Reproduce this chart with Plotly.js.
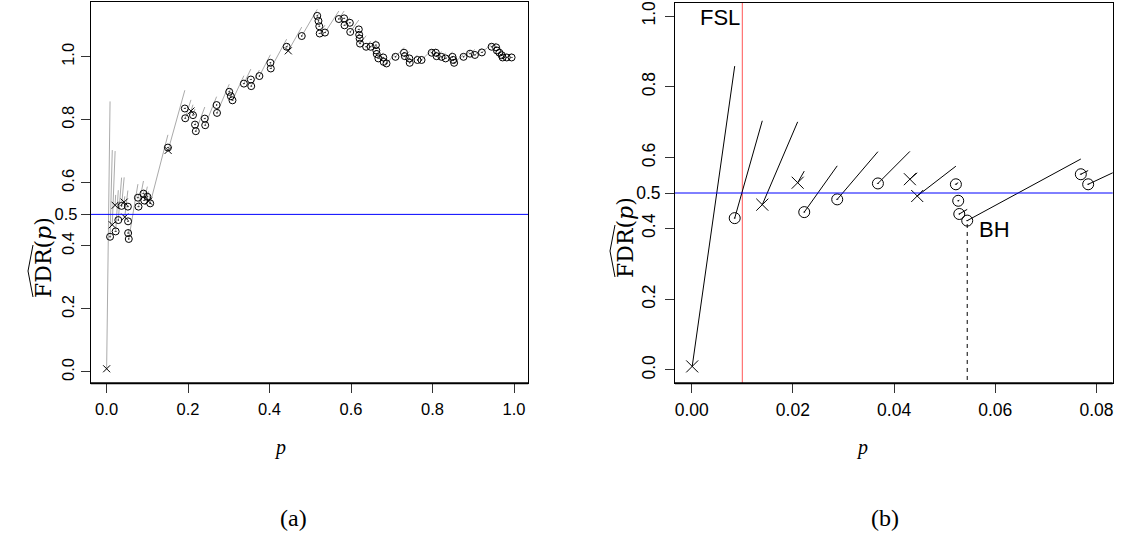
<!DOCTYPE html>
<html>
<head>
<meta charset="utf-8">
<script src="https://cdn.plot.ly/plotly-3.0.1.min.js"></script>
<style>html,body{margin:0;padding:0;background:#fff;}#chart{width:1133px;height:535px;}</style>
</head>
<body>
<div id="chart"></div>
<script>
// ---- data ----
// sorted p-values and their FDR estimates; marker kind: 'o' = circle with dot, 'x' = cross
const pVals = [0.0001,0.0085,0.01395,0.02094,0.02224,0.02876,0.0368,0.04312,0.04457,0.05221,0.05267,0.05288,0.05445,0.0769,0.07835,
 0.0905,0.0925,0.1000,0.1030,0.1070,0.1505,0.1510,0.192,0.193,0.207,0.212,0.217,0.219,0.241,0.242,
 0.270,0.271,0.301,0.305,0.309,0.337,0.354,0.355,0.375,0.402,0.403,0.442,0.446,0.479,0.517,
 0.520,0.522,0.523,0.536,0.570,0.583,0.584,0.597,0.598,0.619,0.620,0.621,0.622,0.637,0.648,
 0.661,0.662,0.663,0.667,0.679,0.680,0.687,0.709,0.730,0.732,0.743,0.744,0.763,0.773,0.798,
 0.808,0.810,0.822,0.832,0.849,0.851,0.853,0.876,0.892,0.904,0.921,0.945,0.956,0.958,0.964,
 0.970,0.972,0.982,0.994];
const fdrVals = [0.0101,0.429,0.467,0.529,0.446,0.482,0.527,0.539,0.4915,0.5246,0.478,0.4407,0.422,0.553,0.5246,
 0.566,0.544,0.556,0.542,0.535,0.712,0.703,0.836,0.805,0.828,0.815,0.785,0.764,0.804,0.783,
 0.847,0.822,0.889,0.875,0.862,0.915,0.928,0.907,0.939,0.981,0.963,1.032,1.019,1.066,1.130,
 1.114,1.097,1.074,1.077,1.120,1.122,1.100,1.108,1.079,1.087,1.070,1.058,1.042,1.032,1.032,
 1.037,1.020,1.009,0.995,0.998,0.984,0.979,1.000,1.013,1.002,0.995,0.981,0.990,0.990,1.013,
 1.013,1.002,1.000,0.995,1.000,0.990,0.981,1.000,1.010,1.006,1.014,1.032,1.030,1.020,1.013,
 1.005,0.998,0.998,0.998];
const kind = ['x','o','x','x','o','o','o','x','x','o','o','o','o','o','o',
 'o','o','o','x','o','o','x','o','o','x','o','o','o','o','o',
 'o','o','o','o','o','o','o','o','o','o','o','o','x','o','o',
 'o','o','o','o','o','o','o','o','o','o','o','o','o','o','o',
 'o','o','o','o','o','o','o','o','o','o','o','o','o','o','o',
 'o','o','o','o','o','o','o','o','o','o','o','o','o','o','o',
 'o','o','o','o'];
const alphaLevel = 0.5;      // target FDR level (blue line)
const fslCut = 0.01;         // FSL threshold (red line)
const bhIndex = 12;          // BH cut-off point (dashed line)
const xTicksA = [0,0.2,0.4,0.6,0.8,1.0], xLabA = ['0.0','0.2','0.4','0.6','0.8','1.0'];
const xTicksB = [0,0.02,0.04,0.06,0.08], xLabB = ['0.00','0.02','0.04','0.06','0.08'];
const yTicks = [0,0.2,0.4,0.6,0.8,1.0], yLab = ['0.0','0.2','0.4','0.6','0.8','1.0'];

// ---- build traces ----
const segX = [], segY = [];
for (let i = 0; i < pVals.length - 1; i++) {
  segX.push(pVals[i], pVals[i+1], null);
  segY.push(fdrVals[i], fdrVals[i] * pVals[i+1] / pVals[i], null);
}
const oX = [], oY = [], xX = [], xY = [];
pVals.forEach((p, i) => { if (kind[i] === 'o') { oX.push(p); oY.push(fdrVals[i]); } else { xX.push(p); xY.push(fdrVals[i]); } });

const W = 1133, H = 535;
const px = v => v / W, py = v => 1 - v / H;

const traces = [
  // panel (a)
  {x: segX, y: segY, xaxis:'x', yaxis:'y', mode:'lines', line:{color:'#aaaaaa', width:1}, hoverinfo:'skip'},
  {x: [-1, 2], y: [alphaLevel, alphaLevel], xaxis:'x', yaxis:'y3', mode:'lines', line:{color:'#0000ff', width:1}},
  {x: oX, y: oY, xaxis:'x', yaxis:'y', mode:'markers', marker:{symbol:'circle-open-dot', size:7, color:'#000', line:{width:1, color:'#000'}}},
  {x: xX, y: xY, xaxis:'x', yaxis:'y', mode:'markers', marker:{symbol:'x-thin-open', size:7, color:'#000', line:{width:1, color:'#000'}}},
  // panel (b)
  {x: [fslCut, fslCut], y: [-1, 2], xaxis:'x2', yaxis:'y2', mode:'lines', line:{color:'#ff5555', width:1}},
  {x: [-1, 1], y: [alphaLevel, alphaLevel], xaxis:'x2', yaxis:'y4', mode:'lines', line:{color:'#0000ff', width:1}},
  {x: [pVals[bhIndex], pVals[bhIndex]], y: [-1, fdrVals[bhIndex] - 0.01], xaxis:'x2', yaxis:'y2', mode:'lines', line:{color:'#000', width:1, dash:'4px,4px'}},
  {x: segX, y: segY, xaxis:'x2', yaxis:'y2', mode:'lines', line:{color:'#000', width:1}},
  {x: oX, y: oY, xaxis:'x2', yaxis:'y2', mode:'markers', marker:{symbol:'circle-open-dot', size:11, color:'#000', line:{width:1, color:'#000'}}},
  {x: xX, y: xY, xaxis:'x2', yaxis:'y2', mode:'markers', marker:{symbol:'x-thin-open', size:12, color:'#000', line:{width:1, color:'#000'}}}
];

const fontA = {family:'Liberation Sans, Arial, sans-serif', size:16.5, color:'#000'};
const fontB = {family:'Liberation Sans, Arial, sans-serif', size:17.5, color:'#000'};
const baseX = {showgrid:false, zeroline:false, showline:true, mirror:true, linecolor:'#000', linewidth:1,
  ticks:'outside', ticklen:9, tickcolor:'#333', tickwidth:1, ticklabelstandoff:2, fixedrange:true};

const rangeA_y = [-0.036, 1.174], rangeB_y = [-0.0376, 1.0376];
const serif = 'DejaVu Serif, serif';
const layout = {
  width: W, height: H, margin:{l:0,r:0,t:0,b:0}, showlegend:false,
  paper_bgcolor:'#fff', plot_bgcolor:'#fff',
  xaxis: Object.assign({}, baseX, {tickfont:fontA, domain:[px(90.7), px(528.3)], range:[-0.039, 1.035], tickvals:xTicksA, ticktext:xLabA, anchor:'y'}),
  yaxis: Object.assign({}, baseX, {tickfont:fontA, tickangle:-90, ticklabelstandoff:0, domain:[py(383.3), py(2)], range:rangeA_y, tickvals:yTicks, ticktext:yLab, anchor:'x'}),
  yaxis3: Object.assign({}, baseX, {tickfont:fontA, overlaying:'y', anchor:'x', side:'left', range:rangeA_y, tickvals:[alphaLevel], ticktext:['0.5'], showline:false, mirror:false, ticklabelstandoff:0}),
  xaxis2: Object.assign({}, baseX, {tickfont:fontB, domain:[px(675), px(1112.7)], range:[-0.0033, 0.0832], tickvals:xTicksB, ticktext:xLabB, anchor:'y2'}),
  yaxis2: Object.assign({}, baseX, {tickfont:fontB, tickangle:-90, ticklabelstandoff:3, domain:[py(383.3), py(2.7)], range:rangeB_y, tickvals:yTicks, ticktext:yLab, anchor:'x2'}),
  yaxis4: Object.assign({}, baseX, {tickfont:fontB, overlaying:'y2', anchor:'x2', side:'left', range:rangeB_y, tickvals:[alphaLevel], ticktext:['0.5'], showline:false, mirror:false, ticklabelstandoff:1}),
  annotations: [
    {xref:'x2', yref:'y2', x:fslCut, y:0.997, text:'FSL', showarrow:false, xanchor:'right', yanchor:'middle', font:{family:'Liberation Sans, Arial', size:22, color:'#000'}},
    {xref:'x2', yref:'y2', x:pVals[bhIndex], y:0.397, xshift:10, text:'BH', showarrow:false, xanchor:'left', yanchor:'middle', font:{family:'Liberation Sans, Arial', size:22, color:'#000'}},
    {xref:'paper', yref:'paper', x:px(280), y:py(447), xanchor:'center', yanchor:'middle', text:'<i>p</i>', showarrow:false, font:{family:'Liberation Serif, serif', size:20, color:'#000'}},
    {xref:'paper', yref:'paper', x:px(862), y:py(447), xanchor:'center', yanchor:'middle', text:'<i>p</i>', showarrow:false, font:{family:'Liberation Serif, serif', size:20, color:'#000'}},
    {xref:'paper', yref:'paper', x:px(293), y:py(518), xanchor:'center', yanchor:'middle', text:'(a)', showarrow:false, font:{family:'Liberation Serif, serif', size:24, color:'#000'}},
    {xref:'paper', yref:'paper', x:px(885), y:py(518), xanchor:'center', yanchor:'middle', text:'(b)', showarrow:false, font:{family:'Liberation Serif, serif', size:24, color:'#000'}},
    {xref:'paper', yref:'paper', x:px(43), y:py(258), xanchor:'center', yanchor:'middle', text:'FDR(<i>p</i>)', textangle:-90, showarrow:false, font:{family:serif, size:22, color:'#000'}},
    {xref:'paper', yref:'paper', x:px(625), y:py(238), xanchor:'center', yanchor:'middle', text:'FDR(<i>p</i>)', textangle:-90, showarrow:false, font:{family:serif, size:22, color:'#000'}}
  ],
  shapes: [
    {type:'path', xref:'paper', yref:'paper', path:`M ${px(33)},${py(297)} L ${px(28)},${py(271)} L ${px(33)},${py(245)}`, line:{color:'#000', width:1}},
    {type:'path', xref:'paper', yref:'paper', path:`M ${px(615)},${py(277)} L ${px(610)},${py(251)} L ${px(615)},${py(225)}`, line:{color:'#000', width:1}},
    {type:'line', xref:'x domain', yref:'y domain', x0:0, x1:1, y0:0, y1:0, line:{color:'#000', width:2}},
    {type:'line', xref:'x2 domain', yref:'y2 domain', x0:0, x1:1, y0:0, y1:0, line:{color:'#000', width:2}}
  ]
};
Plotly.newPlot('chart', traces, layout, {staticPlot:true});
</script>
</body>
</html>
